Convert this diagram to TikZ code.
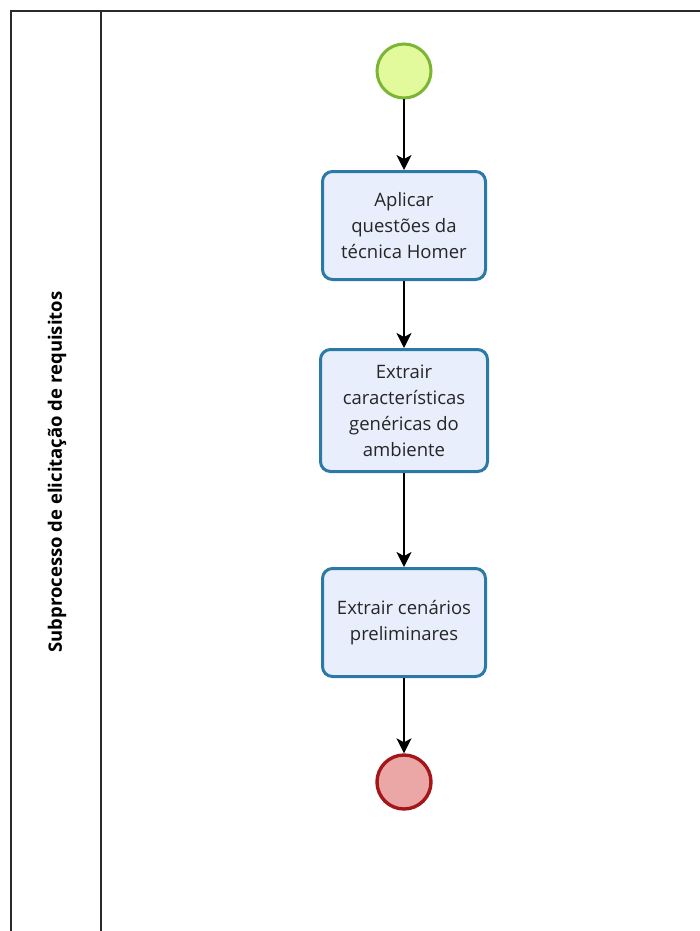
\documentclass[tikz,border=0pt]{standalone}
\usepackage{fontspec}
\setmainfont{Open Sans}
\usetikzlibrary{arrows.meta}
\definecolor{taskfill}{HTML}{E8EEFC}
\definecolor{taskline}{HTML}{2B79A6}
\definecolor{startfill}{HTML}{E2FA9C}
\definecolor{startline}{HTML}{7BB533}
\definecolor{endfill}{HTML}{EBA6A6}
\definecolor{endline}{HTML}{A5161B}
\definecolor{frameline}{HTML}{2A2A2A}
\begin{document}
\begin{tikzpicture}[x=1pt,y=-1pt,
  task/.style={draw=taskline, fill=taskfill, line width=3pt, rounded corners=10pt,
    minimum width=163pt, align=center, font=\fontsize{18.5}{26}\selectfont, text=black!85},
  startev/.style={circle, draw=startline, fill=startfill, line width=3pt, minimum size=54pt, inner sep=0pt},
  endev/.style={circle, draw=endline, fill=endfill, line width=3.4pt, minimum size=54pt, inner sep=0pt},
  flow/.style={draw=black, line width=1.4pt, -{Stealth[length=15pt,width=15pt,inset=4pt]}},
  poolline/.style={draw=frameline, line width=1.8pt}]
  \useasboundingbox (0,0) rectangle (700,931);
  % pool frame and lane header
  \draw[poolline] (11,940) -- (11,11) -- (710,11);
  \draw[poolline] (101,11) -- (101,940);
  \node[rotate=90, font=\bfseries\fontsize{18.5}{20}\selectfont] (lane) at (57,472) {Subprocesso de elicitação de requisitos};
  % events and tasks
  \node[startev] (start) at (404,71) {};
  \node[task, minimum height=108pt] (t1) at (404,225.5) {Aplicar\\questões da\\técnica Homer};
  \node[task, minimum height=122pt, minimum width=167pt] (t2) at (404,410.5) {Extrair\\características\\genéricas do\\ambiente};
  \node[task, minimum height=108pt] (t3) at (404,622.5) {Extrair cenários\\preliminares};
  \node[endev] (end) at (404,782) {};
  % sequence flows
  \draw[flow] (start) -- (t1);
  \draw[flow] (t1) -- (t2);
  \draw[flow] (t2) -- (t3);
  \draw[flow] (t3) -- (end);
\end{tikzpicture}
\end{document}
